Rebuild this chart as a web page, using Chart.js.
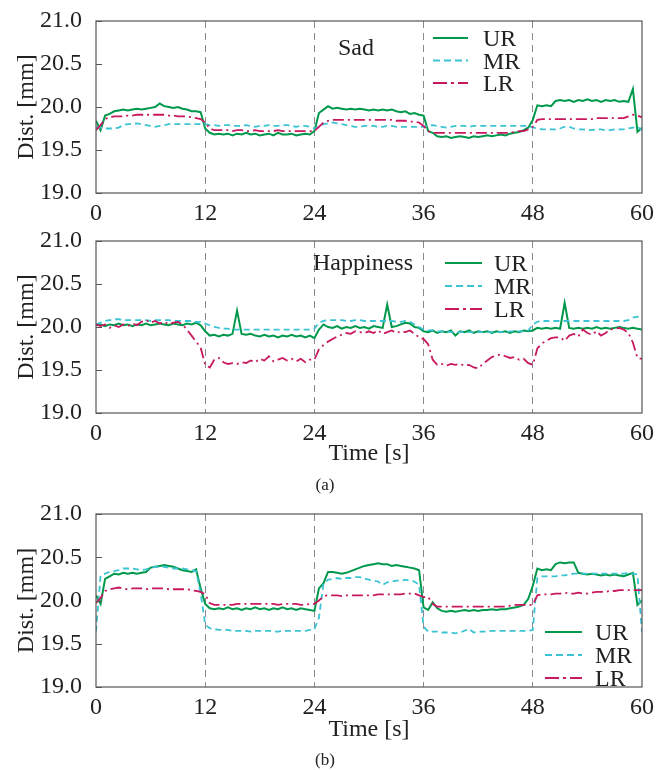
<!DOCTYPE html>
<html><head><meta charset="utf-8">
<script src="https://cdn.jsdelivr.net/npm/chart.js@4.4.1/dist/chart.umd.min.js"></script>
<style>
html,body{margin:0;padding:0;background:#fff;}
body{width:660px;height:770px;position:relative;overflow:hidden;font-family:"Liberation Serif",serif;}
.box{position:absolute;left:0;width:660px;}
.cap{position:absolute;left:0;width:650px;text-align:center;font-size:17px;line-height:20px;color:#222;}
</style></head><body>
<div class="box" style="top:0;height:228px"><canvas id="c1" width="660" height="228"></canvas></div>
<div class="box" style="top:220px;height:255px"><canvas id="c2" width="660" height="255"></canvas></div>
<div class="cap" style="top:475px">(a)</div>
<div class="box" style="top:493px;height:255px"><canvas id="c3" width="660" height="255"></canvas></div>
<div class="cap" style="top:750px">(b)</div>
<script>
// ---- categories / ticks ----
const T = [0,0.5,1,1.5,2,2.5,3,3.5,4,4.5,5,5.5,6,6.5,7,7.5,8,8.5,9,9.5,10,10.5,11,11.5,
12,12.5,13,13.5,14,14.5,15,15.5,16,16.5,17,17.5,18,18.5,19,19.5,20,20.5,21,21.5,22,22.5,23,23.5,
24,24.5,25,25.5,26,26.5,27,27.5,28,28.5,29,29.5,30,30.5,31,31.5,32,32.5,33,33.5,34,34.5,35,35.5,
36,36.5,37,37.5,38,38.5,39,39.5,40,40.5,41,41.5,42,42.5,43,43.5,44,44.5,45,45.5,46,46.5,47,47.5,
48,48.5,49,49.5,50,50.5,51,51.5,52,52.5,53,53.5,54,54.5,55,55.5,56,56.5,57,57.5,58,58.5,59,59.5,60];
const xTicks = [0,12,24,36,48,60];
const yTicks = [19.0,19.5,20.0,20.5,21.0];
const yTickLabels = ['19.0','19.5','20.0','20.5','21.0'];
const seriesNames = ['UR','MR','LR'];

// ---- Sad ----
const sadUR = [19.84,19.73,19.90,19.92,19.95,19.96,19.97,19.96,19.97,19.98,19.97,19.98,19.99,20.00,20.04,20.01,20.00,19.99,20.00,19.98,19.97,19.95,19.95,19.94,
19.75,19.70,19.68,19.69,19.68,19.69,19.67,19.69,19.68,19.70,19.68,19.69,19.67,19.68,19.69,19.67,19.70,19.68,19.68,19.69,19.67,19.68,19.69,19.68,
19.72,19.93,19.97,20.01,19.98,19.99,19.98,19.97,19.98,19.97,19.98,19.97,19.96,19.97,19.96,19.97,19.96,19.97,19.95,19.94,19.95,19.92,19.93,19.91,
19.90,19.72,19.70,19.66,19.65,19.66,19.64,19.65,19.66,19.65,19.64,19.66,19.65,19.66,19.67,19.66,19.67,19.68,19.67,19.69,19.70,19.71,19.73,19.76,
19.85,20.02,20.01,20.02,20.01,20.07,20.08,20.07,20.08,20.06,20.08,20.07,20.09,20.07,20.08,20.06,20.08,20.07,20.08,20.06,20.07,20.06,20.21,19.71,
19.76];
const sadMR = [19.77,19.76,19.75,19.75,19.75,19.76,19.79,19.80,19.80,19.81,19.80,19.79,19.78,19.77,19.78,19.79,19.80,19.80,19.80,19.80,19.80,19.80,19.80,19.80,
19.80,19.79,19.79,19.78,19.79,19.79,19.78,19.78,19.78,19.79,19.78,19.77,19.78,19.78,19.79,19.78,19.78,19.79,19.79,19.78,19.77,19.78,19.78,19.77,
19.75,19.77,19.80,19.81,19.82,19.81,19.80,19.79,19.78,19.77,19.77,19.78,19.78,19.78,19.77,19.77,19.78,19.78,19.77,19.77,19.77,19.77,19.77,19.77,
19.77,19.78,19.79,19.78,19.77,19.76,19.77,19.78,19.78,19.78,19.77,19.78,19.78,19.78,19.78,19.78,19.78,19.78,19.78,19.78,19.78,19.78,19.78,19.78,
19.76,19.75,19.74,19.74,19.74,19.74,19.75,19.77,19.77,19.75,19.74,19.74,19.73,19.73,19.74,19.74,19.73,19.73,19.74,19.74,19.74,19.75,19.76,19.77,
19.73];
const sadLR = [19.73,19.79,19.86,19.88,19.89,19.89,19.89,19.90,19.90,19.91,19.91,19.91,19.91,19.91,19.91,19.91,19.90,19.90,19.89,19.89,19.89,19.88,19.87,19.86,
19.82,19.75,19.73,19.73,19.73,19.73,19.72,19.73,19.73,19.72,19.72,19.73,19.72,19.72,19.72,19.72,19.73,19.72,19.72,19.72,19.72,19.72,19.72,19.72,
19.72,19.77,19.82,19.84,19.85,19.85,19.85,19.85,19.85,19.85,19.85,19.85,19.85,19.85,19.85,19.85,19.85,19.85,19.84,19.84,19.84,19.83,19.83,19.82,
19.78,19.72,19.70,19.70,19.70,19.70,19.70,19.70,19.70,19.70,19.70,19.70,19.70,19.70,19.70,19.70,19.70,19.70,19.70,19.70,19.71,19.72,19.72,19.74,
19.77,19.85,19.86,19.86,19.86,19.86,19.86,19.86,19.86,19.86,19.86,19.86,19.86,19.86,19.87,19.87,19.87,19.87,19.87,19.87,19.87,19.89,19.91,19.90,
19.88];

// ---- Happiness ----
const hapUR = [20.02,20.03,20.01,20.03,20.02,20.04,20.02,20.03,20.01,20.03,20.02,20.04,20.02,20.03,20.04,20.03,20.02,20.04,20.03,20.02,20.04,20.03,20.05,20.02,
19.95,19.90,19.91,19.89,19.91,19.90,19.92,20.19,19.92,19.91,19.92,19.90,19.89,19.91,19.89,19.90,19.88,19.90,19.89,19.91,19.89,19.90,19.88,19.90,
19.87,19.97,20.03,20.00,19.99,20.01,19.98,20.00,19.99,20.01,19.99,20.00,19.98,20.01,20.00,19.99,20.26,20.00,20.01,20.03,20.05,20.04,20.00,19.99,
19.95,19.94,19.96,19.93,19.95,19.94,19.96,19.90,19.95,19.94,19.96,19.93,19.95,19.94,19.95,19.93,19.95,19.94,19.95,19.93,19.95,19.94,19.96,19.95,
19.96,19.99,19.98,19.99,19.98,19.99,19.98,20.28,19.99,19.98,19.99,19.98,19.99,19.98,20.00,19.98,19.99,19.98,19.99,20.00,19.99,19.98,19.99,19.98,
19.97];
const hapMR = [20.03,20.05,20.07,20.08,20.09,20.09,20.08,20.08,20.08,20.08,20.08,20.08,20.07,20.08,20.08,20.08,20.08,20.07,20.07,20.07,20.07,20.07,20.06,20.06,
20.04,20.02,20.00,19.99,19.98,19.98,19.97,19.97,19.97,19.97,19.97,19.97,19.97,19.97,19.97,19.97,19.97,19.97,19.97,19.97,19.97,19.97,19.97,19.97,
19.98,20.05,20.07,20.08,20.08,20.08,20.08,20.07,20.07,20.08,20.08,20.07,20.07,20.07,20.07,20.07,20.07,20.07,20.06,20.06,20.07,20.06,20.03,20.00,
19.97,19.96,19.96,19.95,19.95,19.95,19.94,19.94,19.94,19.94,19.94,19.94,19.94,19.94,19.94,19.94,19.94,19.94,19.94,19.95,19.95,19.95,19.95,19.96,
20.03,20.06,20.07,20.07,20.07,20.07,20.07,20.07,20.07,20.07,20.07,20.07,20.07,20.07,20.07,20.07,20.07,20.07,20.07,20.07,20.07,20.08,20.11,20.12,
20.08];
const hapLR = [20.03,20.01,20.03,19.99,20.02,20.00,20.03,20.01,20.04,20.02,20.06,20.08,20.05,20.07,20.04,20.06,20.03,20.05,20.06,20.03,19.97,19.90,19.83,19.76,
19.56,19.53,19.62,19.64,19.59,19.57,19.58,19.57,19.59,19.58,19.61,19.59,19.63,19.61,19.66,19.60,19.62,19.64,19.61,19.63,19.60,19.63,19.59,19.62,
19.62,19.74,19.79,19.83,19.86,19.89,19.91,19.93,19.92,19.95,19.94,19.93,19.95,19.93,19.96,19.92,19.94,19.96,19.93,19.95,19.94,19.96,19.92,19.88,
19.86,19.80,19.62,19.56,19.57,19.55,19.57,19.56,19.57,19.55,19.56,19.53,19.52,19.57,19.61,19.65,19.67,19.68,19.66,19.64,19.65,19.62,19.63,19.58,
19.56,19.75,19.81,19.84,19.87,19.88,19.88,19.84,19.90,19.92,19.89,19.97,19.93,19.91,19.95,19.90,19.93,19.97,19.98,19.99,19.97,19.93,19.82,19.64,
19.63];

// ---- (b) ----
const bUR = [20.06,19.96,20.25,20.28,20.31,20.30,20.32,20.31,20.32,20.31,20.32,20.33,20.38,20.39,20.40,20.41,20.40,20.39,20.37,20.35,20.34,20.33,20.36,20.14,
19.96,19.91,19.90,19.91,19.90,19.92,19.90,19.91,19.89,19.91,19.90,19.92,19.90,19.91,19.89,19.91,19.90,19.92,19.90,19.91,19.89,19.91,19.90,19.89,
19.88,20.14,20.20,20.33,20.33,20.32,20.31,20.32,20.34,20.36,20.38,20.40,20.41,20.42,20.43,20.42,20.42,20.40,20.41,20.40,20.39,20.38,20.37,20.35,
19.92,19.89,19.98,19.91,19.88,19.87,19.88,19.87,19.88,19.89,19.88,19.89,19.88,19.89,19.89,19.90,19.89,19.90,19.90,19.91,19.92,19.93,19.95,20.02,
20.17,20.37,20.35,20.36,20.35,20.42,20.44,20.43,20.44,20.44,20.32,20.31,20.30,20.31,20.30,20.29,20.30,20.29,20.30,20.29,20.28,20.30,20.32,19.95,
20.00];
const bMR = [19.64,20.29,20.31,20.33,20.34,20.35,20.37,20.37,20.37,20.36,20.35,20.36,20.38,20.39,20.39,20.39,20.38,20.37,20.37,20.37,20.36,20.35,20.34,20.08,
19.72,19.68,19.67,19.66,19.66,19.66,19.65,19.65,19.65,19.65,19.64,19.65,19.65,19.65,19.65,19.64,19.64,19.65,19.65,19.65,19.65,19.65,19.65,19.66,
19.67,19.80,20.20,20.24,20.25,20.26,20.25,20.26,20.26,20.27,20.27,20.25,20.24,20.23,20.22,20.18,20.21,20.22,20.23,20.23,20.24,20.23,20.22,20.18,
19.70,19.64,19.64,19.64,19.63,19.63,19.63,19.62,19.63,19.65,19.67,19.63,19.64,19.64,19.64,19.65,19.65,19.65,19.65,19.65,19.65,19.65,19.65,19.65,
19.66,20.26,20.28,20.28,20.28,20.28,20.29,20.29,20.30,20.31,20.31,20.31,20.31,20.31,20.31,20.31,20.31,20.31,20.31,20.31,20.31,20.32,20.31,20.30,
19.63];
const bLR = [19.97,20.03,20.11,20.13,20.14,20.15,20.14,20.13,20.14,20.14,20.14,20.13,20.14,20.14,20.14,20.14,20.13,20.13,20.13,20.13,20.13,20.12,20.11,20.10,
20.07,19.97,19.95,19.95,19.95,19.95,19.95,19.96,19.96,19.96,19.96,19.96,19.96,19.96,19.96,19.96,19.95,19.96,19.96,19.96,19.96,19.95,19.95,19.96,
19.96,20.00,20.05,20.06,20.06,20.06,20.05,20.06,20.06,20.06,20.06,20.06,20.06,20.06,20.07,20.07,20.07,20.07,20.07,20.07,20.08,20.08,20.08,20.06,
20.04,20.04,19.96,19.93,19.93,19.93,19.93,19.93,19.93,19.93,19.93,19.93,19.93,19.93,19.93,19.93,19.93,19.93,19.93,19.94,19.95,19.95,19.95,19.95,
19.95,20.06,20.07,20.07,20.07,20.08,20.08,20.09,20.08,20.08,20.09,20.08,20.08,20.09,20.10,20.10,20.10,20.11,20.11,20.12,20.12,20.12,20.12,20.12,
20.12];

// ---- rendering ----
const FONT = '"Liberation Serif", serif';
const TXT = '#222';
Chart.defaults.font.family = FONT;
Chart.defaults.color = TXT;
const styles = [
  {color:'#00994c', dash:[], width:2},
  {color:'#3cc3d3', dash:[6,4], width:1.8},
  {color:'#c8185e', dash:[11,4,2,4], width:1.8}
];
const legendDash = [[], [7,4], [14,4,3,4]];

const decor = {
  id: 'decor',
  afterDatasetsDraw(chart, args, o) {
    const {ctx, chartArea: a, scales: {y}} = chart;
    ctx.save();
    ctx.strokeStyle = '#555'; ctx.lineWidth = 1.2; ctx.setLineDash([]);
    ctx.strokeRect(a.left, a.top, a.right - a.left, a.bottom - a.top);
    ctx.beginPath();
    yTicks.forEach(v => {
      const py = Math.round(y.getPixelForValue(v)) + 0.5;
      ctx.moveTo(a.left, py); ctx.lineTo(a.left + 6, py);
    });
    ctx.stroke();
    ctx.font = '24px ' + FONT;
    ctx.fillStyle = TXT;
    ctx.textBaseline = 'alphabetic';
    chart.data.datasets.forEach((ds, i) => {
      const ly = o.ly + i * o.dy;
      ctx.strokeStyle = ds.borderColor; ctx.lineWidth = ds.borderWidth;
      ctx.setLineDash(legendDash[i]);
      ctx.beginPath(); ctx.moveTo(o.lx0, ly); ctx.lineTo(o.lx1, ly); ctx.stroke();
      ctx.setLineDash([]);
      ctx.fillText(ds.label, o.tx, ly + 8);
    });
    if (o.note) ctx.fillText(o.note, o.nx, o.ny);
    ctx.restore();
  }
};

function makeChart(id, vals, cfg) {
  const datasets = vals.map((arr, i) => ({
    label: seriesNames[i],
    data: T.map((t, k) => ({x: t, y: arr[k]})),
    borderColor: styles[i].color,
    borderDash: styles[i].dash,
    borderWidth: styles[i].width,
    pointRadius: 0,
    tension: 0,
    fill: false,
    order: 2 - i
  }));
  return new Chart(document.getElementById(id), {
    type: 'line',
    data: {datasets},
    plugins: [decor],
    options: {
      responsive: false, animation: false, devicePixelRatio: 1,
      layout: {padding: {top: 21, right: 17, left: 0, bottom: 0}},
      plugins: {legend: {display: false}, tooltip: {enabled: false}, decor: cfg.decor},
      scales: {
        x: {
          type: 'linear', min: 0, max: 60,
          afterBuildTicks: s => { s.ticks = xTicks.map(v => ({value: v})); },
          afterFit: s => { s.height = cfg.xh; },
          ticks: {font: {size: 24}, color: TXT, padding: cfg.tickPad, maxRotation: 0, autoSkip: false},
          grid: {drawTicks: false, lineWidth: 1,
                 color: c => (c.tick && (c.tick.value === 0 || c.tick.value === 60)) ? 'rgba(0,0,0,0)' : '#8a8a8a'},
          border: {display: false, dash: [7,5]},
          title: cfg.xTitle ? {display: true, text: 'Time [s]', font: {size: 24}, color: TXT,
                               padding: {top: 0, bottom: cfg.titlePad}} : {display: false}
        },
        y: {
          min: 19, max: 21,
          afterBuildTicks: s => { s.ticks = yTicks.map(v => ({value: v})); },
          afterFit: s => { s.width = 96; },
          ticks: {font: {size: 24}, color: TXT, padding: 6,
                  callback: v => yTickLabels[yTicks.indexOf(v)]},
          grid: {display: false},
          border: {display: false},
          title: {display: true, text: 'Dist. [mm]', font: {size: 24}, color: TXT, padding: {top: 12, bottom: 0}}
        }
      }
    }
  });
}

makeChart('c1', [sadUR, sadMR, sadLR], {
  xh: 35, tickPad: 6, xTitle: false,
  decor: {lx0: 433, lx1: 468, ly: 38, dy: 22.5, tx: 483, note: 'Sad', nx: 338, ny: 55}
});
makeChart('c2', [hapUR, hapMR, hapLR], {
  xh: 62, tickPad: 6, xTitle: true, titlePad: 7,
  decor: {lx0: 445, lx1: 482, ly: 43, dy: 23, tx: 494, note: 'Happiness', nx: 313, ny: 50}
});
makeChart('c3', [bUR, bMR, bLR], {
  xh: 61, tickPad: 6, xTitle: true, titlePad: 4,
  decor: {lx0: 545, lx1: 582, ly: 139, dy: 23, tx: 595, note: '', nx: 0, ny: 0}
});
</script>
</body></html>
